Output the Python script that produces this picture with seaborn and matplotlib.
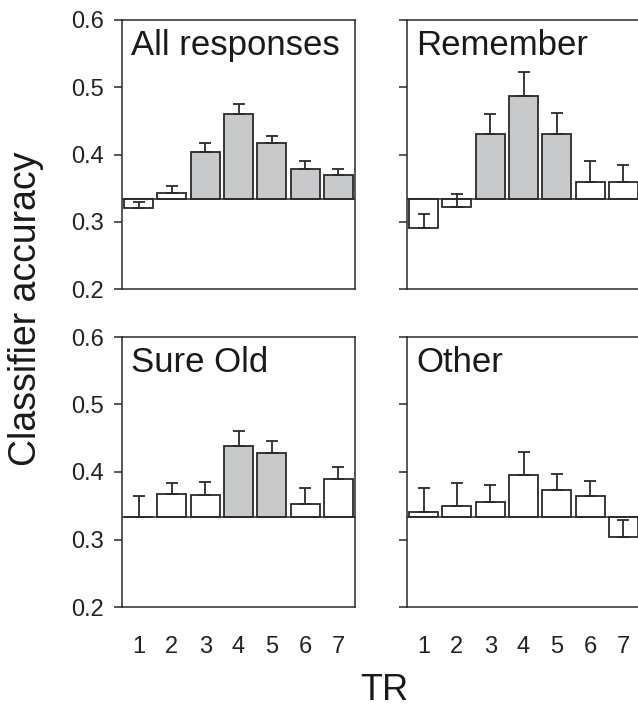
import numpy as np
import pandas as pd
import matplotlib
matplotlib.use('Agg')
import matplotlib.pyplot as plt
import seaborn as sns

# Data
tr = [1, 2, 3, 4, 5, 6, 7]
chance = 1 / 3

all_acc = [0.320, 0.343, 0.404, 0.460, 0.417, 0.379, 0.370]
all_err = [0.010, 0.010, 0.013, 0.015, 0.011, 0.011, 0.008]
all_sig = [False, False, True, True, True, True, True]

rem_acc = [0.290, 0.322, 0.431, 0.487, 0.431, 0.359, 0.359]
rem_err = [0.022, 0.019, 0.029, 0.035, 0.031, 0.031, 0.025]
rem_sig = [False, False, True, True, True, False, False]

sure_acc = [0.334, 0.368, 0.366, 0.438, 0.428, 0.352, 0.389]
sure_err = [0.030, 0.016, 0.019, 0.022, 0.018, 0.024, 0.019]
sure_sig = [False, False, False, True, True, False, False]

oth_acc = [0.341, 0.349, 0.356, 0.395, 0.374, 0.364, 0.304]
oth_err = [0.035, 0.034, 0.025, 0.035, 0.023, 0.022, 0.025]
oth_sig = [False, False, False, False, False, False, False]

panels = [
    ("All responses", all_acc, all_err, all_sig),
    ("Remember", rem_acc, rem_err, rem_sig),
    ("Sure Old", sure_acc, sure_err, sure_sig),
    ("Other", oth_acc, oth_err, oth_sig),
]

sns.set_style("ticks")
plt.rcParams['font.family'] = ['Liberation Sans', 'DejaVu Sans']

dark = '#2a2a2a'
fig = plt.figure(figsize=(6.38, 7.09), dpi=100)

# axes boxes in pixels (left, top, width, height); right column runs off the edge
W, H = 638, 709
boxes = [
    (122, 20, 233, 269),
    (407, 20, 233, 269),
    (122, 337, 233, 270),
    (407, 337, 233, 270),
]

for i, ((name, acc, err, sig), (x0, y0, w, h)) in enumerate(zip(panels, boxes)):
    ax = fig.add_axes([x0 / W, 1 - (y0 + h) / H, w / W, h / H])
    df = pd.DataFrame({
        "TR": tr,
        "diff": np.array(acc) - chance,
        "sig": sig,
    })
    # bars start at chance level
    sns.barplot(data=df, x="TR", y="diff", hue="sig", dodge=False,
                palette={True: '#c8c9cb', False: 'white'}, hue_order=[True, False],
                edgecolor=dark, linewidth=1.3, width=0.87, bottom=chance,
                legend=False, ax=ax)
    pos = np.arange(len(tr))
    ax.errorbar(pos, acc, yerr=[np.zeros(len(err)), err], fmt='none',
                ecolor=dark, elinewidth=1.3, capsize=4, capthick=1.3, zorder=5)
    ax.axhline(chance, color=dark, linewidth=1.1, zorder=6)
    ax.set_xlim(-0.5, 6.5)
    ax.set_ylim(0.2, 0.6)
    ax.set_yticks([0.2, 0.3, 0.4, 0.5, 0.6])
    ax.set_xlabel("")
    ax.set_ylabel("")
    for sp in ax.spines.values():
        sp.set_visible(True)
        sp.set_color(dark)
        sp.set_linewidth(1.1)
    ax.tick_params(axis='y', length=6, width=1.1, color=dark, direction='out',
                   labelsize=17, pad=7, labelcolor='#222222')
    ax.tick_params(axis='x', length=0, labelsize=17, pad=21, labelcolor='#222222')
    if i % 2 == 1:
        ax.set_yticklabels([])
    if i < 2:
        ax.set_xticklabels([])
    ax.text(0.04, 0.965, name, transform=ax.transAxes, ha='left', va='top',
            fontsize=25, color='#1a1a1a')

fig.text(0.040, 0.565, "Classifier accuracy", rotation=90, ha='center',
         va='center', fontsize=27, color='#1a1a1a')
fig.text(0.602, 0.026, "TR", ha='center', va='center', fontsize=26,
         color='#1a1a1a')

fig.savefig("out.png", dpi=100)
plt.close(fig)
